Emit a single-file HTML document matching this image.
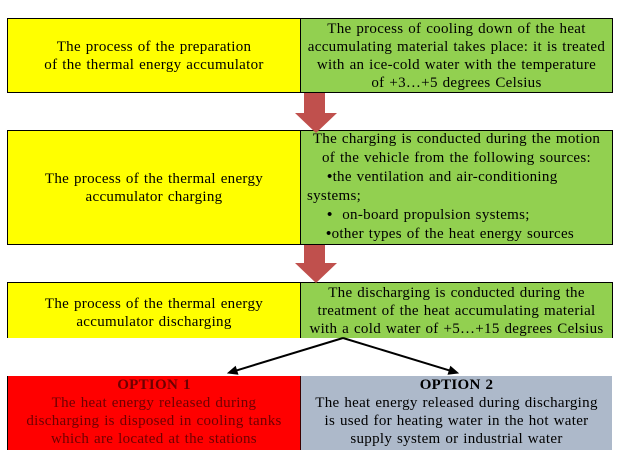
<!DOCTYPE html>
<html>
<head>
<meta charset="utf-8">
<style>
  html, body { margin:0; padding:0; background:#fff; }
  body { width:618px; height:463px; position:relative; overflow:hidden;
         font-family:"Liberation Serif", "Times New Roman", serif; font-size:15px; color:#000;
         letter-spacing:0.3px; word-spacing:0.8px; }
  .cell { position:absolute; box-sizing:border-box; display:flex; flex-direction:column;
          justify-content:center; align-items:center; text-align:center; line-height:18px; }
  .y { background:#ffff00; }
  .g { background:#92d050; }
  .r { background:#ff0000; color:#6e0000; }
  .b { background:#adb9ca; }
  .bd { border:1px solid #000; }
  .ln { position:absolute; white-space:nowrap; line-height:19px; }
  .bu { font-weight:bold; }
  b { font-weight:bold; }
</style>
</head>
<body>

<!-- Row 1 -->
<div class="cell y bd" style="left:7px;top:18px;width:294px;height:75px;">
  <div>The process of the preparation</div>
  <div>of the thermal energy accumulator</div>
</div>
<div class="cell g bd" style="left:300px;top:18px;width:313px;height:75px;">
  <div>The process of cooling down of the heat</div>
  <div>accumulating material takes place: it is treated</div>
  <div>with an ice-cold water with the temperature</div>
  <div>of +3…+5 degrees Celsius</div>
</div>

<!-- Row 2 -->
<div class="cell y bd" style="left:7px;top:130px;width:294px;height:115px;">
  <div>The process of the thermal energy</div>
  <div>accumulator charging</div>
</div>
<div class="cell g bd" style="left:300px;top:130px;width:313px;height:115px;"></div>
<div class="ln" style="left:300px;width:313px;text-align:center;top:130px;">The charging is conducted during the motion</div>
<div class="ln" style="left:300px;width:313px;text-align:center;top:149px;">of the vehicle from the following sources:</div>
<div class="ln" style="left:327px;top:168px;"><span class="bu">•</span>the ventilation and air-conditioning</div>
<div class="ln" style="left:307px;top:187px;">systems;</div>
<div class="ln" style="left:327px;top:206px;"><span class="bu">•</span>&nbsp; on-board propulsion systems;</div>
<div class="ln" style="left:326px;top:225px;"><span class="bu">•</span>other types of the heat energy sources</div>

<!-- Row 3 -->
<div class="cell y" style="left:7px;top:282px;width:294px;height:56px;border:1px solid #000;border-bottom:none;padding-top:4px;">
  <div>The process of the thermal energy</div>
  <div>accumulator discharging</div>
</div>
<div class="cell g" style="left:300px;top:282px;width:313px;height:56px;border:1px solid #000;border-bottom:none;">
  <div>The discharging is conducted during the</div>
  <div>treatment of the heat accumulating material</div>
  <div>with a cold water of +5…+15 degrees Celsius</div>
</div>

<!-- Row 4 -->
<div class="cell r" style="left:7px;top:376px;width:294px;height:74px;justify-content:flex-start;border-left:1px solid #000;border-right:1px solid #3a0000;">
  <div><b>OPTION 1</b></div>
  <div>The heat energy released during</div>
  <div>discharging is disposed in cooling tanks</div>
  <div>which are located at the stations</div>
</div>
<div class="cell b" style="left:301px;top:376px;width:311px;height:74px;justify-content:flex-start;">
  <div><b>OPTION 2</b></div>
  <div>The heat energy released during discharging</div>
  <div>is used for heating water in the hot water</div>
  <div>supply system or industrial water</div>
</div>

<!-- Arrows -->
<svg width="618" height="463" style="position:absolute;left:0;top:0;" xmlns="http://www.w3.org/2000/svg">
  <polygon points="304,93 325,93 325,113 337,113 316,133 295,113 304,113" fill="#c0504d"/>
  <polygon points="304,245 325,245 325,263 337,263 316,283 295,263 304,263" fill="#c0504d"/>
  <line x1="343" y1="338" x2="236.6" y2="370.4" stroke="#000" stroke-width="2"/>
  <polygon points="228,373 237.8,374.2 235.4,366.6" fill="#000" stroke="#000" stroke-width="1"/>
  <line x1="343" y1="338" x2="449.4" y2="370.4" stroke="#000" stroke-width="2"/>
  <polygon points="458,373 448.2,374.2 450.6,366.6" fill="#000" stroke="#000" stroke-width="1"/>
</svg>

</body>
</html>
